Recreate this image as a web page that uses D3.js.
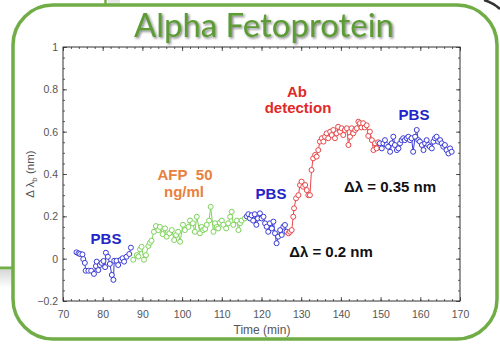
<!DOCTYPE html>
<html><head><meta charset="utf-8">
<script src="https://cdn.jsdelivr.net/npm/d3@7/dist/d3.min.js"></script>
<style>
html,body{margin:0;padding:0;background:#fff;}
svg{display:block;}
</style></head>
<body>
<script>
// ---- data (time in min, Δλb in nm) ----
const pbs1 = [[73.4,0.03],[73.9,0.025],[74.3,0.022],[74.9,0.02],[75.1,-0.002],[75.5,-0.02],[75.7,-0.057],[76.4,-0.057],[77.1,-0.057],[77.8,-0.072],[78.3,-0.035],[78.5,-0.014],[78.9,-0.054],[79.3,-0.03],[79.7,-0.02],[80.2,-0.011],[80.6,-0.04],[80.8,0.028],[81.3,0.009],[81.8,-0.025],[82.3,-0.077],[82.7,-0.1],[82.9,-0.01],[83.5,-0.01],[83.9,-0.03],[84.5,-0.006],[85.0,0.002],[85.4,-0.014],[86.0,0.009],[86.7,0.022],[87.1,0.052]];
const afp = [[87.7,-0.005],[88.6,0.017],[89.0,0.01],[89.4,0.044],[89.8,0.056],[90.4,-0.005],[90.9,0.017],[91.5,0.06],[91.9,0.075],[92.3,0.085],[92.9,0.127],[93.4,0.154],[94.0,0.135],[94.4,0.15],[95.1,0.116],[95.7,0.143],[96.1,0.104],[96.8,0.12],[97.4,0.135],[98.0,0.088],[98.5,0.112],[99.0,0.127],[99.5,0.08],[100.2,0.16],[100.7,0.135],[101.6,0.15],[102.0,0.18],[102.7,0.167],[103.2,0.127],[103.7,0.198],[104.5,0.12],[104.9,0.15],[105.3,0.135],[105.8,0.14],[106.2,0.16],[106.8,0.18],[107.2,0.245],[107.9,0.127],[108.3,0.167],[108.7,0.15],[109.1,0.143],[109.5,0.17],[110.0,0.18],[110.4,0.16],[111.1,0.143],[111.6,0.167],[112.1,0.198],[112.5,0.222],[112.9,0.16],[113.8,0.18],[114.2,0.135],[114.6,0.167],[115.0,0.18],[115.8,0.19]];
const pbs2 = [[116.3,0.2],[116.7,0.21],[117.1,0.19],[117.5,0.205],[117.9,0.18],[118.3,0.21],[118.7,0.16],[119.1,0.19],[119.6,0.214],[120.0,0.19],[120.5,0.198],[120.9,0.167],[121.3,0.151],[121.7,0.127],[122.1,0.167],[122.6,0.143],[123.0,0.175],[123.4,0.12],[123.8,0.073],[124.2,0.104],[124.7,0.135],[125.1,0.112],[125.5,0.151],[125.9,0.159],[126.3,0.127]];
const abDetection = [[126.8,0.12],[127.2,0.127],[127.6,0.135],[128.0,0.198],[128.2,0.238],[128.7,0.285],[129.3,0.30],[129.7,0.348],[130.1,0.364],[130.5,0.34],[131.0,0.348],[131.4,0.324],[131.8,0.30],[132.2,0.30],[132.6,0.419],[133.0,0.474],[133.5,0.49],[133.9,0.482],[134.3,0.513],[134.7,0.553],[135.2,0.569],[135.6,0.553],[136.0,0.576],[136.4,0.592],[136.8,0.569],[137.3,0.60],[137.7,0.584],[138.1,0.608],[138.5,0.569],[138.9,0.592],[139.3,0.623],[139.8,0.60],[140.2,0.616],[140.6,0.584],[141.0,0.608],[141.5,0.616],[141.9,0.537],[142.3,0.576],[142.7,0.616],[143.1,0.592],[143.6,0.608],[144.0,0.616],[144.4,0.647],[144.8,0.64],[145.2,0.62],[145.6,0.64],[146.0,0.62],[146.5,0.63],[146.9,0.58],[147.3,0.60],[147.8,0.56],[148.2,0.513],[148.6,0.545],[149.0,0.521],[149.4,0.55]];
const pbs3 = [[149.8,0.545],[150.3,0.521],[150.7,0.545],[151.1,0.56],[151.5,0.537],[151.9,0.529],[152.4,0.505],[152.8,0.545],[153.2,0.576],[153.6,0.537],[154.1,0.513],[154.5,0.521],[154.9,0.545],[155.3,0.56],[155.7,0.569],[156.1,0.56],[156.6,0.569],[157.0,0.576],[157.4,0.56],[157.8,0.569],[158.2,0.505],[158.7,0.576],[159.1,0.608],[159.5,0.56],[159.9,0.553],[160.4,0.537],[160.8,0.513],[161.2,0.545],[161.6,0.56],[162.0,0.537],[162.4,0.529],[162.9,0.521],[163.3,0.553],[163.7,0.569],[164.1,0.576],[164.5,0.553],[165.0,0.56],[165.4,0.545],[165.8,0.529],[166.2,0.537],[166.6,0.513],[167.1,0.497],[167.5,0.521],[167.9,0.505]];

const xTicks = [70,80,90,100,110,120,130,140,150,160,170];
const yTicks = [-0.2,0,0.2,0.4,0.6,0.8,1];
const titleText = "Alpha Fetoprotein";
const xTitle = "Time (min)";
const annotations = [
  {text:"PBS", x:106, y:244, color:"#2424C8"},
  {text:"AFP\u00a0\u00a050", x:185, y:179.5, color:"#E8813E"},
  {text:"ng/ml", x:184, y:197, color:"#E8813E"},
  {text:"PBS", x:271, y:199, color:"#2424C8"},
  {text:"Ab", x:297, y:97, color:"#E02A2A"},
  {text:"detection", x:298, y:113, color:"#E02A2A"},
  {text:"PBS", x:414, y:120, color:"#2424C8"},
  {text:"Δλ = 0.2 nm", x:331, y:257, color:"#111"},
  {text:"Δλ = 0.35 nm", x:390, y:192, color:"#111"}
];

const W = 500, H = 346;
const svg = d3.select("body").append("svg").attr("width", W).attr("height", H);

const defs = svg.append("defs");
const f = defs.append("filter").attr("id","sh").attr("x","-10%").attr("y","-20%").attr("width","130%").attr("height","160%");
f.append("feDropShadow").attr("dx",1.5).attr("dy",1.5).attr("stdDeviation",0.8).attr("flood-color","#222").attr("flood-opacity",0.55);
const g1 = defs.append("linearGradient").attr("id","gr").attr("x1",0).attr("y1",0).attr("x2",0).attr("y2",1);
g1.append("stop").attr("offset","0").attr("stop-color","#d8d8d8");
g1.append("stop").attr("offset","1").attr("stop-color","#fff");

// background decorations
svg.append("rect").attr("x",0).attr("y",270).attr("width",14).attr("height",18).attr("fill","url(#gr)");
svg.append("line").attr("x1",0).attr("x2",14).attr("y1",268).attr("y2",268).attr("stroke","#70AD47").attr("stroke-width",3);
svg.append("rect").attr("x",108).attr("y",0).attr("width",12).attr("height",11).attr("fill","#e6e6e6");
svg.append("line").attr("x1",105.5).attr("x2",105.5).attr("y1",0).attr("y2",6).attr("stroke","#70AD47").attr("stroke-width",2.5);
svg.append("path").attr("d","M484,0 Q494,3 500,9").attr("fill","none").attr("stroke","#333").attr("stroke-width",2.5);

// rounded frame
svg.append("rect").attr("x",13).attr("y",5).attr("width",484).attr("height",334)
  .attr("rx",40).attr("ry",40).attr("fill","#fff").attr("stroke","#70AD47").attr("stroke-width",3.5);

// title
svg.append("text").attr("x",264).attr("y",36.5).attr("text-anchor","middle")
  .attr("font-family","Lato, 'Open Sans', sans-serif").attr("font-size",32)
  .attr("fill","#5C9B36").attr("filter","url(#sh)")
  .attr("textLength",260).attr("lengthAdjust","spacingAndGlyphs").text(titleText);

const x = d3.scaleLinear().domain([70,170]).range([63,460]);
const y = d3.scaleLinear().domain([-0.2,1]).range([301,47]);

const font = "'Liberation Sans', Arial, sans-serif";
const axisCol = "#333";

function styleAxis(g){
  g.select(".domain").remove();
  g.selectAll("line").attr("stroke",axisCol).attr("stroke-width",0.8);
  g.selectAll("text").attr("font-family",font).attr("font-size",10.5).attr("fill","#555");
}
const xMinor = d3.range(70,171,2);
const yMinor = d3.range(-0.2,1.0001,0.05).map(v=>+v.toFixed(2));

svg.append("g").attr("transform",`translate(0,${y(-0.2)})`)
  .call(d3.axisBottom(x).tickValues(xMinor).tickFormat("").tickSize(-2)).call(styleAxis);
svg.append("g").attr("transform",`translate(0,${y(-0.2)})`)
  .call(d3.axisBottom(x).tickValues(xTicks).tickFormat(d3.format("d")).tickSize(-4).tickPadding(10)).call(styleAxis);
svg.append("g").attr("transform",`translate(0,${y(1)})`)
  .call(d3.axisTop(x).tickValues(xMinor).tickFormat("").tickSize(-2)).call(styleAxis);
svg.append("g").attr("transform",`translate(0,${y(1)})`)
  .call(d3.axisTop(x).tickValues(xTicks).tickFormat("").tickSize(-4)).call(styleAxis);
svg.append("g").attr("transform",`translate(${x(70)},0)`)
  .call(d3.axisLeft(y).tickValues(yMinor).tickFormat("").tickSize(-2)).call(styleAxis);
svg.append("g").attr("transform",`translate(${x(70)},0)`)
  .call(d3.axisLeft(y).tickValues(yTicks).tickFormat(d=>d===0?"0":d3.format("")(d)).tickSize(-4).tickPadding(5)).call(styleAxis);
svg.append("g").attr("transform",`translate(${x(170)},0)`)
  .call(d3.axisRight(y).tickValues(yMinor).tickFormat("").tickSize(-2)).call(styleAxis);
svg.append("g").attr("transform",`translate(${x(170)},0)`)
  .call(d3.axisRight(y).tickValues(yTicks).tickFormat("").tickSize(-4)).call(styleAxis);

// frame box
svg.append("rect").attr("x",x(70)).attr("y",y(1)).attr("width",x(170)-x(70)).attr("height",y(-0.2)-y(1))
  .attr("fill","none").attr("stroke",axisCol).attr("stroke-width",1);

// axis titles
svg.append("text").attr("x",262).attr("y",334).attr("text-anchor","middle")
  .attr("font-family",font).attr("font-size",12).attr("fill","#555").text(xTitle);
const yl = svg.append("text").attr("transform","translate(34,174) rotate(-90)").attr("text-anchor","middle")
  .attr("font-family",font).attr("font-size",11.5).attr("fill","#555");
yl.append("tspan").text("Δ λ");
yl.append("tspan").attr("font-size",8).attr("dy",3).text("b");
yl.append("tspan").attr("dy",-3).text(" (nm)");

// series
const line = d3.line().x(d=>x(d[0])).y(d=>y(d[1]));
const series = [
  {data:pbs1, color:"#3B3BD6"},
  {data:afp, color:"#7ED35A"},
  {data:pbs2, color:"#3B3BD6"},
  {data:abDetection, color:"#E8474A"},
  {data:pbs3, color:"#3B3BD6"}
];
series.forEach(s=>{
  svg.append("path").datum(s.data).attr("d",line).attr("fill","none").attr("stroke",s.color).attr("stroke-width",1);
  svg.append("g").selectAll("circle").data(s.data).join("circle")
    .attr("cx",d=>x(d[0])).attr("cy",d=>y(d[1])).attr("r",2.5)
    .attr("fill","#fff").attr("stroke",s.color).attr("stroke-width",1);
});

// annotations
svg.append("g").selectAll("text").data(annotations).join("text")
  .attr("x",d=>d.x).attr("y",d=>d.y).attr("text-anchor","middle")
  .attr("font-family",font).attr("font-weight","bold").attr("font-size",15)
  .attr("fill",d=>d.color).text(d=>d.text);
</script>
</body></html>
